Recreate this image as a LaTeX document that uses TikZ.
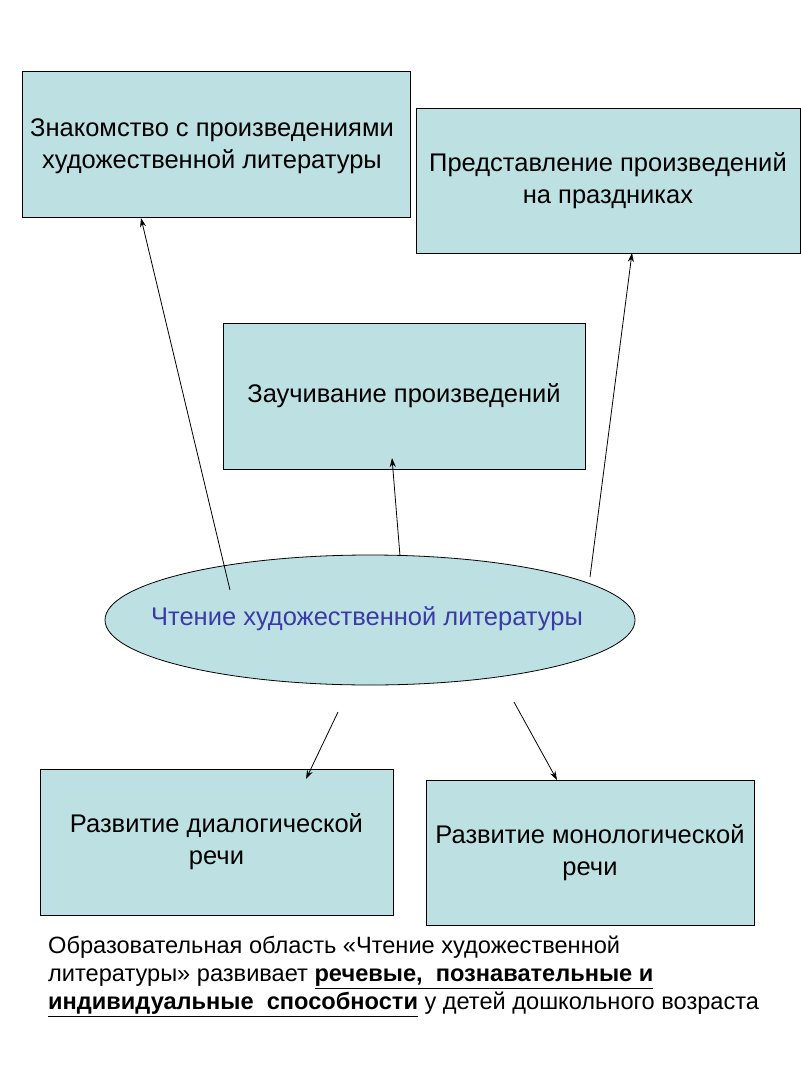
\documentclass[tikz,border=0pt]{standalone}
\usepackage{fontspec}
\setmainfont{Liberation Sans}
\usetikzlibrary{shapes.geometric,arrows.meta}
\definecolor{boxfill}{HTML}{BDE1E3}
\definecolor{ovaltext}{HTML}{3A3AA8}
\tikzset{
  box/.style={draw=black, fill=boxfill, line width=0.8pt, align=center, font=\fontsize{25.5}{32}\selectfont},
  arr/.style={-{Stealth[length=9pt,width=6pt]}, line width=0.8pt}
}
\begin{document}
\begin{tikzpicture}[x=1pt,y=-1pt]
\useasboundingbox (0,0) rectangle (800,1067);
\node[box, minimum width=388pt, minimum height=146pt] (b1) at (216,144) {};
\node[font=\fontsize{25.5}{32}\selectfont, align=center] (t1) at (212,146) {Знакомство с произведениями\\художественной литературы};
\node[box, minimum width=384pt, minimum height=145pt] (b2) at (608,180.5) {Представление произведений\\на праздниках};
\node[box, minimum width=362pt, minimum height=146pt] (b3) at (404,396) {Заучивание произведений};
\draw[fill=boxfill, line width=0.8pt] (370,620) ellipse [x radius=265, y radius=65];
\node[font=\fontsize{25.5}{33}\selectfont, text=ovaltext] (e) at (367,619) {Чтение художественной литературы};
\node[box, minimum width=353pt, minimum height=146pt] (b4) at (216.5,842) {Развитие диалогической\\речи};
\node[box, minimum width=328pt, minimum height=145pt] (b5) at (590,852.5) {Развитие монологической\\речи};
\coordinate (s1) at (230,590); \coordinate (d1) at (141,218);
\coordinate (s2) at (400,556); \coordinate (d2) at (392,458);
\coordinate (s3) at (590,577); \coordinate (d3) at (632,253);
\coordinate (s4) at (338,712); \coordinate (d4) at (306,779);
\coordinate (s5) at (514,702); \coordinate (d5) at (557,780);
\draw[arr] (s1) -- (d1);
\draw[arr] (s2) -- (d2);
\draw[arr] (s3) -- (d3);
\draw[arr] (s4) -- (d4);
\draw[arr] (s5) -- (d5);
\node[anchor=north west, align=left, font=\fontsize{23.6}{28}\selectfont, inner sep=0pt] (note) at (48,936) {Образовательная область «Чтение художественной\\литературы» развивает \underline{\textbf{речевые,\ \ познавательные и}}\\\underline{\textbf{индивидуальные\ \ способности}} у детей дошкольного возраста};
\end{tikzpicture}
\end{document}
